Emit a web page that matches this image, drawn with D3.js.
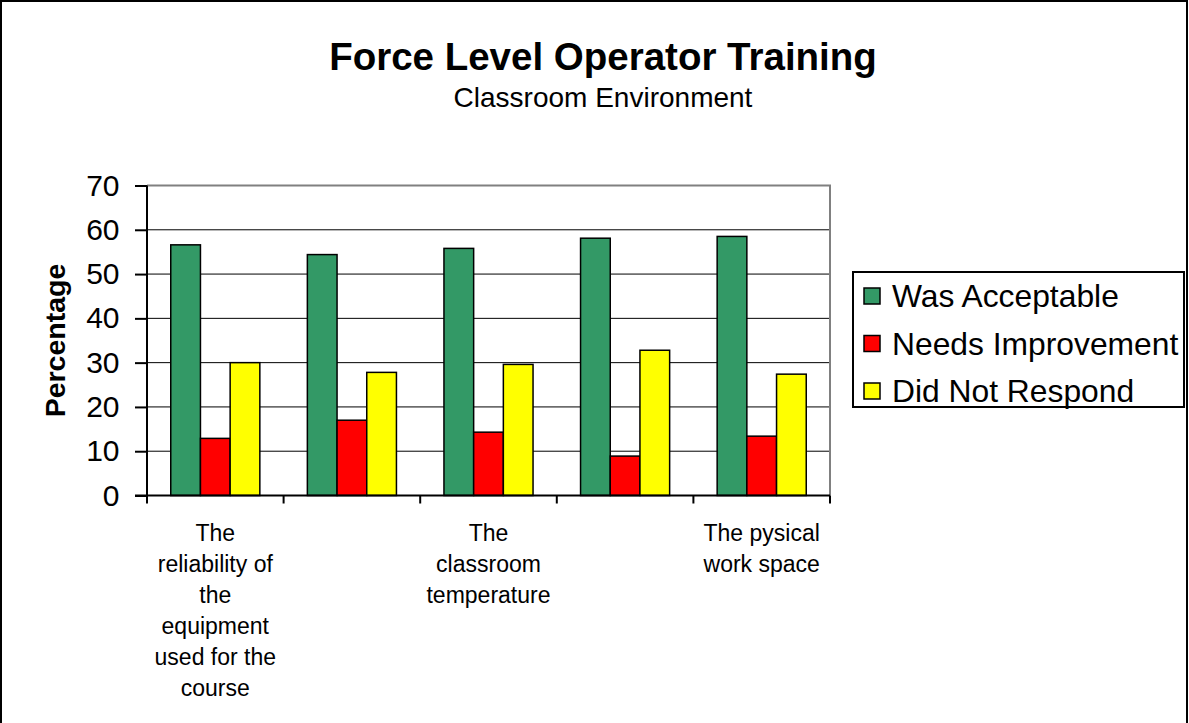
<!DOCTYPE html>
<html>
<head>
<meta charset="utf-8">
<script src="https://cdn.jsdelivr.net/npm/d3@7/dist/d3.min.js"></script>
<style>
  body { margin: 0; background: #fff; }
  svg { display: block; font-family: "Liberation Sans", Arial, sans-serif; }
</style>
</head>
<body>
<script>
// chart data
var categories = [
  "The reliability of the equipment used for the course",
  "",
  "The classroom temperature",
  "",
  "The pysical work space"
];
var seriesNames = ["Was Acceptable", "Needs Improvement", "Did Not Respond"];
var wasAcceptable = [56.6, 54.4, 55.8, 58.1, 58.5];
var needsImprovement = [12.9, 17.0, 14.3, 8.9, 13.4];
var didNotRespond = [30.0, 27.8, 29.6, 32.8, 27.4];
var yTicks = [0, 10, 20, 30, 40, 50, 60, 70];
var colors = ["#339966", "#ff0000", "#ffff00"];

var width = 1189, height = 723;
var plot = { left: 147, right: 830, top: 185.5, bottom: 495.5 };

var svg = d3.select("body").append("svg")
  .attr("width", width)
  .attr("height", height);

// outer chart border (bottom runs off the page)
svg.append("rect")
  .attr("x", 1).attr("y", 1)
  .attr("width", 1186).attr("height", 760)
  .attr("fill", "#fff")
  .attr("stroke", "#000")
  .attr("stroke-width", 2);

// titles
svg.append("text")
  .attr("x", 603).attr("y", 70)
  .attr("text-anchor", "middle")
  .style("font-size", "38.5px")
  .style("font-weight", "bold")
  .text("Force Level Operator Training");

svg.append("text")
  .attr("x", 603).attr("y", 107)
  .attr("text-anchor", "middle")
  .style("font-size", "28px")
  .text("Classroom Environment");

var series = [wasAcceptable, needsImprovement, didNotRespond];
var idx = d3.range(categories.length);

var x0 = d3.scaleBand().domain(idx).range([plot.left, plot.right]).padding(0);
var x1 = d3.scaleBand().domain(d3.range(seriesNames.length))
  .range([0, x0.bandwidth()]).paddingInner(0).paddingOuter(0.8);
var y = d3.scaleLinear().domain([0, 70]).range([plot.bottom, plot.top]);

// gridlines
svg.append("g").selectAll("line")
  .data(yTicks.filter(function(d) { return d > 0 && d < 70; }))
  .enter().append("line")
  .attr("x1", plot.left).attr("x2", plot.right)
  .attr("y1", function(d) { return y(d); })
  .attr("y2", function(d) { return y(d); })
  .attr("stroke", "#000")
  .attr("stroke-width", 1);

// plot frame top/right in gray
svg.append("path")
  .attr("d", "M" + plot.left + "," + y(70) + "H" + plot.right + "V" + y(0))
  .attr("fill", "none")
  .attr("stroke", "#808080")
  .attr("stroke-width", 2);

// bars
var groups = svg.append("g").selectAll("g")
  .data(idx)
  .enter().append("g")
  .attr("transform", function(i) { return "translate(" + x0(i) + ",0)"; });

groups.selectAll("rect")
  .data(function(i) { return series.map(function(s, k) { return { k: k, v: s[i] }; }); })
  .enter().append("rect")
  .attr("x", function(d) { return x1(d.k); })
  .attr("width", x1.bandwidth())
  .attr("y", function(d) { return y(d.v); })
  .attr("height", function(d) { return y(0) - y(d.v); })
  .attr("fill", function(d) { return colors[d.k]; })
  .attr("stroke", "#000")
  .attr("stroke-width", 1.5);

// y axis
var yAxis = svg.append("g")
  .attr("transform", "translate(" + plot.left + ",0)")
  .call(d3.axisLeft(y).tickValues(yTicks).tickSize(12).tickPadding(15.5));
yAxis.select(".domain").attr("stroke", "#000").attr("stroke-width", 2)
  .attr("d", "M0," + y(70) + "V" + y(0));
yAxis.selectAll(".tick line").attr("stroke", "#000").attr("stroke-width", 2);
yAxis.selectAll(".tick text")
  .style("font-size", "30px")
  .style("font-family", "'Liberation Sans', Arial, sans-serif")
  .attr("fill", "#000");

// x axis: line, ticks at category boundaries, wrapped labels
var xAxis = svg.append("g");
xAxis.append("line")
  .attr("x1", plot.left - 12).attr("x2", plot.right)
  .attr("y1", y(0)).attr("y2", y(0))
  .attr("stroke", "#000").attr("stroke-width", 2);

var bounds = idx.map(function(i) { return x0(i); }).concat([x0.range()[1]]);
xAxis.selectAll(".xtick")
  .data(bounds)
  .enter().append("line")
  .attr("class", "xtick")
  .attr("x1", function(d) { return d; }).attr("x2", function(d) { return d; })
  .attr("y1", y(0)).attr("y2", y(0) + 8)
  .attr("stroke", "#000").attr("stroke-width", 2);

function wrapText(textSel, label, maxW) {
  var words = label.split(" ");
  var lines = [], line = [];
  var probe = textSel.append("tspan");
  words.forEach(function(w) {
    var test = line.concat([w]).join(" ");
    probe.text(test);
    if (line.length && probe.node().getComputedTextLength() > maxW) {
      lines.push(line.join(" "));
      line = [w];
    } else {
      line.push(w);
    }
  });
  if (line.length) lines.push(line.join(" "));
  probe.remove();
  return lines;
}

idx.forEach(function(i) {
  if (!categories[i]) return;
  var cx = x0(i) + x0.bandwidth() / 2;
  var t = xAxis.append("text")
    .attr("text-anchor", "middle")
    .style("font-size", "23px");
  var lines = wrapText(t, categories[i], 128);
  lines.forEach(function(l, j) {
    t.append("tspan")
      .attr("x", cx)
      .attr("y", 540.5 + j * 31)
      .text(l);
  });
});

// y axis title
svg.append("text")
  .attr("transform", "translate(65," + ((plot.top + plot.bottom) / 2) + ") rotate(-90)")
  .attr("text-anchor", "middle")
  .style("font-size", "28.5px")
  .style("font-weight", "bold")
  .text("Percentage");

// legend
var legend = svg.append("g");
legend.append("rect")
  .attr("x", 853).attr("y", 272)
  .attr("width", 331).attr("height", 135)
  .attr("fill", "#fff")
  .attr("stroke", "#000")
  .attr("stroke-width", 2);

var items = legend.selectAll(".item")
  .data(seriesNames)
  .enter().append("g")
  .attr("class", "item")
  .attr("transform", function(d, i) { return "translate(0," + (296 + i * 47.5) + ")"; });

items.append("rect")
  .attr("x", 864).attr("y", -8)
  .attr("width", 16).attr("height", 16)
  .attr("fill", function(d, i) { return colors[i]; })
  .attr("stroke", "#000")
  .attr("stroke-width", 1.5);

items.append("text")
  .attr("x", 892).attr("y", 11)
  .style("font-size", "31.8px")
  .text(function(d) { return d; });
</script>
</body>
</html>
